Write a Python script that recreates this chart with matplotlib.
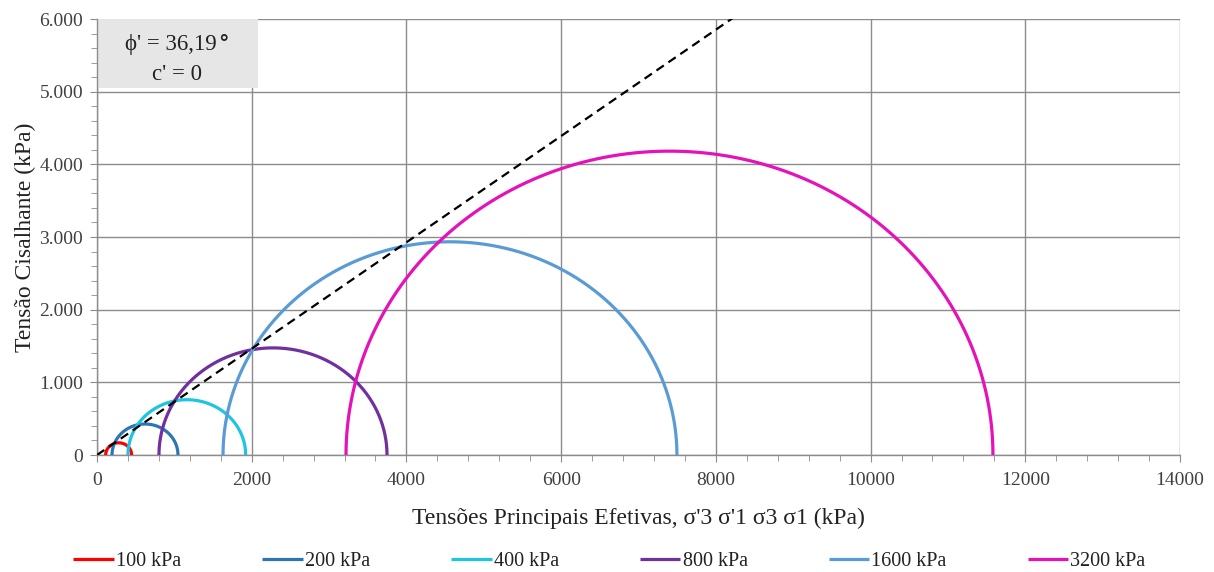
import numpy as np
import matplotlib
matplotlib.use("Agg")
import matplotlib.pyplot as plt
from matplotlib.ticker import MultipleLocator, FuncFormatter
from matplotlib.patches import Rectangle

plt.rcParams['font.family'] = ['Liberation Serif', 'DejaVu Serif']

# Mohr circles: effective principal stresses (kPa) for each confining pressure
labels = ['100 kPa', '200 kPa', '400 kPa', '800 kPa', '1600 kPa', '3200 kPa']
sigma3 = [112, 194, 400, 801, 1629, 3219]
sigma1 = [448, 1047, 1922, 3749, 7497, 11582]
colors = ['#ff0000', '#2e75b6', '#1fc5e0', '#7030a0', '#5b9bd5', '#e412b8']

phi_deg = 36.19
cohesion = 0.0

fig = plt.figure(figsize=(12.14, 5.72), dpi=100)
ax = fig.add_axes([97/1214, 117/572, 1083/1214, 436/572])

theta = np.linspace(0, np.pi, 400)
for s3, s1, c, lab in zip(sigma3, sigma1, colors, labels):
    center = (s1 + s3) / 2
    radius = (s1 - s3) / 2
    ax.plot(center + radius * np.cos(theta), radius * np.sin(theta),
            color=c, lw=2.3, label=lab, solid_capstyle='butt', zorder=3)

# Failure envelope
xs = np.array([0, 14000])
ax.plot(xs, cohesion + xs * np.tan(np.radians(phi_deg)), color='black',
        lw=1.6, ls=(0, (4, 2.5)), zorder=4)

ax.set_xlim(0, 14000)
ax.set_ylim(0, 6000)
ax.xaxis.set_major_locator(MultipleLocator(2000))
ax.xaxis.set_minor_locator(MultipleLocator(400))
ax.yaxis.set_major_locator(MultipleLocator(1000))
ax.yaxis.set_minor_locator(MultipleLocator(200))
ax.yaxis.set_major_formatter(FuncFormatter(lambda v, p: f"{int(v):,}".replace(',', '.')))
ax.xaxis.set_major_formatter(FuncFormatter(lambda v, p: f"{int(v)}"))

ax.grid(True, which='major', color='#8c8c8c', lw=1.0, zorder=0)
ax.set_axisbelow(True)
for side in ['top', 'right']:
    ax.spines[side].set_visible(False)
for side in ['left', 'bottom']:
    ax.spines[side].set_color('#8c8c8c')
    ax.spines[side].set_linewidth(1.0)
ax.tick_params(which='both', direction='out', color='#8c8c8c', labelsize=14,
               labelcolor='#404040')
ax.tick_params(which='major', length=5)
ax.tick_params(which='minor', length=4)
ax.tick_params(axis='x', which='major', pad=7)
ax.tick_params(axis='y', which='major', pad=5)

ax.set_xlabel("Tensões Principais Efetivas, σ'3 σ'1 σ3 σ1 (kPa)", fontsize=17,
              color='#222222', labelpad=14)
ax.set_ylabel("Tensão Cisalhante (kPa)", fontsize=17, color='#222222', labelpad=2)

# Strength parameters box
ax.add_patch(Rectangle((0, 5050), 2080, 950, facecolor='#e6e6e6', edgecolor='none',
                       zorder=2))
phi_txt = ax.text(950, 5645, f"ϕ' = {phi_deg:.2f}".replace('.', ','), ha='center',
                  va='center', fontsize=16.5, color='#222222', zorder=5)
ax.annotate("°", xy=(1.0, 1.0), xycoords=phi_txt, xytext=(1, 0),
            textcoords='offset points', ha='left', va='top', fontsize=15,
            fontweight='bold', color='#222222', zorder=5, family='DejaVu Sans')
ax.text(1040, 5240, "c' = 0", ha='center', va='center', fontsize=16.5,
        color='#222222', zorder=5)

fig.legend(loc='center', bbox_to_anchor=(0.502, 0.019), ncol=6, frameon=False,
           fontsize=14.5, handlelength=2.0, handletextpad=0.1, columnspacing=4.05,
           labelcolor='#222222')

fig.savefig('out.png', dpi=100)
